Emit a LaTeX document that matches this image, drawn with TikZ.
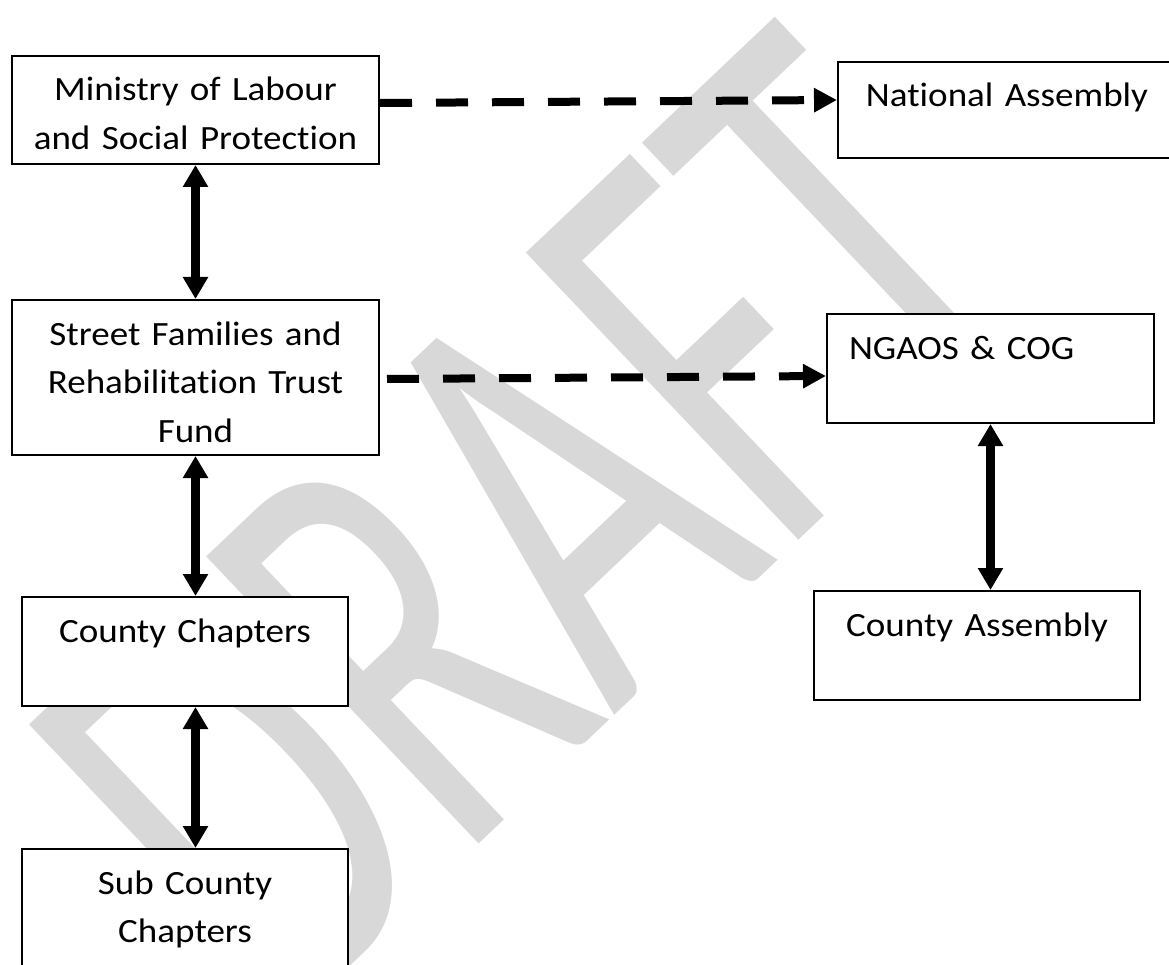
\documentclass[tikz,border=0pt]{standalone}
\usepackage{fontspec}
\setmainfont{Carlito}[FakeStretch = 1.09, Ligatures = NoCommon]
\newfontfamily\wmfont{Carlito}[FakeStretch = 0.64]
\usetikzlibrary{arrows.meta}
\definecolor{wmgray}{RGB}{216,216,216}

\begin{document}
\begin{tikzpicture}[x = 1pt, y = -1pt,
    box/.style = {draw, fill = white, line width = 2pt, inner xsep = 0pt, inner ysep = 0pt,
      align = center, text height = 45pt, anchor = north west,
      font = \fontsize{34}{48.5}\selectfont},
    link/.style = {line width = 8pt, dash pattern = on 32pt off 24pt,
      -{Triangle[length = 23pt, width = 23pt]}},
    both/.style = {line width = 9pt,
      {Triangle[length = 22pt, width = 24pt]}-{Triangle[length = 22pt, width = 24pt]}}]
  \useasboundingbox (0, 0) rectangle (1169, 965);
  \clip (0, 0) rectangle (1169, 965);
  % watermark
  \node [font = \wmfont\fontsize{617}{617}\selectfont, text = wmgray, inner sep = 0pt,
    rotate = 43.5, anchor = base west] (draft) at (282, 1031) {DRAFT};
  % left column
  \node [box, text width = 367pt, text depth = 63pt] (ministry) at (11, 55) {Ministry of Labour\\and Social Protection};
  \node [box, text width = 367pt, text depth = 110pt] (street) at (11, 299) {Street Families and\\Rehabilitation Trust\\Fund};
  \node [box, text width = 326pt, text depth = 64pt] (county) at (21, 596) {County Chapters};
  \node [box, text width = 326pt, text depth = 115pt] (sub) at (21, 848) {Sub County\\Chapters};
  % right column
  \node [box, text width = 338pt, text depth = 51pt] (national) at (837, 61) {National Assembly};
  \node [box, align = left, inner xsep = 22pt, text width = 283pt, text depth = 64pt] (ngaos) at (826, 313) {NGAOS \& COG};
  \node [box, text width = 326pt, text depth = 64pt] (cassembly) at (813, 590) {County Assembly};
  % links
  \draw [link] ([yshift = 7pt]ministry.east) -- ([yshift = 10pt]national.west);
  \draw [link] ([xshift = 7pt, yshift = -1.5pt]street.east) -- ([yshift = -7.5pt]ngaos.west);
  \draw [both] (ministry.south) -- (street.north);
  \draw [both] (street.south) -- (street.south |- county.north);
  \draw [both] (county.south -| street.south) -- (sub.north -| street.south);
  \draw [both] (ngaos.south) -- (ngaos.south |- cassembly.north);
\end{tikzpicture}
\end{document}
